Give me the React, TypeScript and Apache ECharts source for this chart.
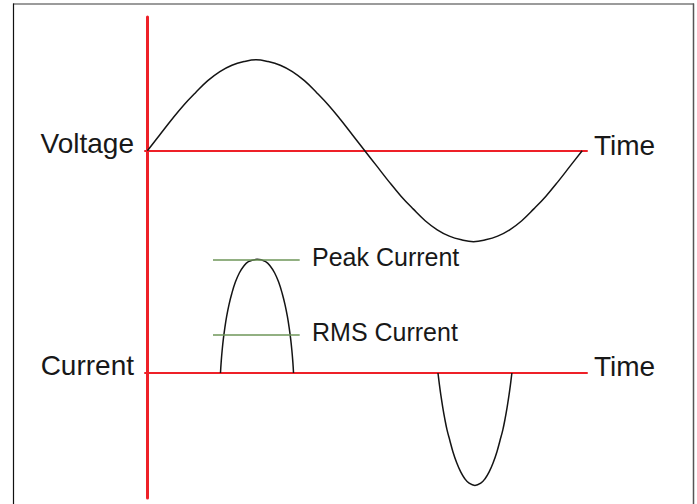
import React, { useEffect, useRef } from "react";
import * as echarts from "echarts";

// Voltage waveform (phase angle in degrees, normalised voltage)
const voltageAngles = [0, 10, 20, 30, 40, 50, 60, 70, 80, 90, 100, 110, 120, 130, 140, 150, 160, 170, 180, 190, 200, 210, 220, 230, 240, 250, 260, 270, 280, 290, 300, 310, 320, 330, 340, 350, 360];
const voltageValues = [0, 0.17, 0.34, 0.5, 0.64, 0.77, 0.87, 0.94, 0.98, 1, 0.98, 0.94, 0.87, 0.77, 0.64, 0.5, 0.34, 0.17, 0, -0.17, -0.34, -0.5, -0.64, -0.77, -0.87, -0.94, -0.98, -1, -0.98, -0.94, -0.87, -0.77, -0.64, -0.5, -0.34, -0.17, 0];

// Current pulses (phase angle in degrees, normalised current)
const currentPosAngles = [60.5, 61.1, 61.89, 62.89, 64.13, 65.64, 67.52, 69.88, 72.84, 76.11, 79.68, 83.64, 90.75, 97.86, 101.82, 105.39, 108.66, 111.62, 113.98, 115.86, 117.37, 118.61, 119.61, 120.4, 121.0];
const currentPosValues = [0, 0.1, 0.2, 0.3, 0.4, 0.5, 0.6, 0.7, 0.8, 0.88, 0.94, 0.98, 1, 0.98, 0.94, 0.88, 0.8, 0.7, 0.6, 0.5, 0.4, 0.3, 0.2, 0.1, 0];
const currentNegAngles = [240.6, 241.76, 243.05, 244.52, 246.17, 248.1, 250.33, 252.9, 256.11, 259.42, 262.82, 266.37, 271.2, 276.03, 279.58, 282.98, 286.29, 289.5, 292.07, 294.3, 296.23, 297.88, 299.35, 300.64, 301.8];
const currentNegValues = [0, -0.1, -0.2, -0.3, -0.4, -0.5, -0.59, -0.69, -0.79, -0.87, -0.93, -0.97, -0.99, -0.97, -0.93, -0.87, -0.79, -0.69, -0.59, -0.5, -0.4, -0.3, -0.2, -0.1, 0];

// Reference levels
const peakCurrent = 1;
const rmsCurrent = 0.335;
const levelSpan = [54.3, 126.1];

// Texts
const rowLabels = ["Voltage", "Current"];
const timeLabel = "Time";
const levelLabels = ["Peak Current", "RMS Current"];

const RED = "#ee2028";
const GREEN = "#6e9659";
const INK = "#141414";
const FONT = "'Liberation Sans', Arial, Helvetica, sans-serif";

export default function App() {
  const ref = useRef<HTMLDivElement>(null);

  useEffect(() => {
    if (!ref.current) return;
    const chart = echarts.init(ref.current, undefined, { renderer: "svg" });

    const pair = (xs: number[], ys: number[]) => xs.map((x, i) => [x, ys[i]]);

    const hiddenX = (gridIndex: number) => ({
      type: "value",
      gridIndex,
      min: -2,
      max: 364,
      axisLine: { show: true, onZero: true, lineStyle: { color: RED, width: 2 } },
      axisTick: { show: false },
      axisLabel: { show: false },
      splitLine: { show: false },
    });
    const hiddenY = (gridIndex: number, min: number, max: number) => ({
      type: "value",
      gridIndex,
      min,
      max,
      axisLine: { show: true, lineStyle: { color: RED, width: 3 } },
      axisTick: { show: false },
      axisLabel: { show: false },
      splitLine: { show: false },
    });

    const textStyle = (size: number) => ({
      fill: "#181818",
      fontSize: size,
      fontFamily: FONT,
    });

    const curve = (xIdx: number, xs: number[], ys: number[], extra: any = {}) => ({
      type: "line",
      xAxisIndex: xIdx,
      yAxisIndex: xIdx,
      data: pair(xs, ys),
      smooth: 0.4,
      showSymbol: false,
      clip: false,
      silent: true,
      lineStyle: { color: INK, width: 1.5 },
      ...extra,
    });

    chart.setOption({
      animation: false,
      backgroundColor: "#ffffff",
      grid: [
        { left: 145, right: 110, top: 17, height: 231 },
        { left: 145, right: 110, top: 248, height: 250 },
      ],
      xAxis: [hiddenX(0), hiddenX(1)],
      yAxis: [hiddenY(0, -1.07, 1.47), hiddenY(1, -1.1, 1.1)],
      series: [
        curve(0, voltageAngles, voltageValues),
        curve(1, currentPosAngles, currentPosValues, {
          markLine: {
            symbol: "none",
            silent: true,
            label: { show: false },
            lineStyle: { color: GREEN, width: 1.5, type: "solid" },
            data: [
              [{ coord: [levelSpan[0], peakCurrent] }, { coord: [levelSpan[1], peakCurrent] }],
              [{ coord: [levelSpan[0], rmsCurrent] }, { coord: [levelSpan[1], rmsCurrent] }],
            ],
          },
        }),
        curve(1, currentNegAngles, currentNegValues),
      ],
      graphic: [
        // frame
        { type: "line", shape: { x1: 13, y1: 4, x2: 694, y2: 4 }, style: { stroke: "#7a7a7a", lineWidth: 1.5 } },
        { type: "line", shape: { x1: 13.5, y1: 3.5, x2: 13.5, y2: 504 }, style: { stroke: "#111111", lineWidth: 1.2 } },
        { type: "line", shape: { x1: 693.5, y1: 3.5, x2: 693.5, y2: 504 }, style: { stroke: "#555555", lineWidth: 1.5 } },
        // labels
        { type: "text", x: 134, y: 143, style: { ...textStyle(28), text: rowLabels[0], align: "right", verticalAlign: "middle" } },
        { type: "text", x: 134, y: 365.5, style: { ...textStyle(28), text: rowLabels[1], align: "right", verticalAlign: "middle" } },
        { type: "text", x: 594, y: 145.5, style: { ...textStyle(28), text: timeLabel, align: "left", verticalAlign: "middle" } },
        { type: "text", x: 594, y: 366.5, style: { ...textStyle(28), text: timeLabel, align: "left", verticalAlign: "middle" } },
        { type: "text", x: 312, y: 257, style: { ...textStyle(25), text: levelLabels[0], align: "left", verticalAlign: "middle" } },
        { type: "text", x: 312, y: 332, style: { ...textStyle(25), text: levelLabels[1], align: "left", verticalAlign: "middle" } },
      ],
    });

    return () => chart.dispose();
  }, []);

  return (
    <div
      ref={ref}
      style={{ position: "fixed", left: 0, top: 0, width: 697, height: 504, background: "#ffffff" }}
    />
  );
}
